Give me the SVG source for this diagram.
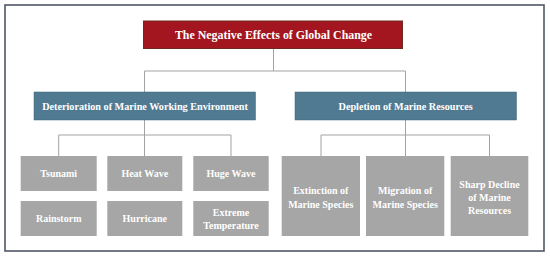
<svg xmlns="http://www.w3.org/2000/svg" width="550" height="257" viewBox="0 0 550 257">
<style>
text{font-family:"Liberation Serif","Times New Roman",serif;font-weight:bold;fill:#ffffff;text-anchor:middle;dominant-baseline:central}
.t{font-size:11.9px}
.b{fill:#4f7a92;stroke:#3f6478;stroke-width:0.5}
.bt{font-size:10.2px}
.g{fill:#a6a6a6}
.gt{font-size:10px}
.c{fill:none;stroke:#a3a3a3;stroke-width:1}
</style>
<rect x="5" y="5" width="539" height="246" fill="#ffffff" stroke="#4f5766" stroke-width="1.6"/>
<g id="connectors">
<path class="c" d="M273.5,48.5V71H144.5V92M273.5,71H405.5V92"/>
<path class="c" d="M144.5,120V135H58.7V156M144.5,135V156M144.5,135H231V156"/>
<path class="c" d="M405.5,120V135H321V156M405.5,135V156M405.5,135H489.5V156"/>
</g>
<g id="root">
<rect x="143.5" y="21" width="259" height="27.5" fill="#a3161f" stroke="#6e2a20" stroke-width="1"/>
<text class="t" x="273.5" y="35">The Negative Effects of Global Change</text>
</g>
<g id="env">
<rect class="b" x="34" y="92" width="221.5" height="28"/>
<text class="bt" x="145" y="106">Deterioration of Marine Working Environment</text>
</g>
<g id="res">
<rect class="b" x="295" y="92" width="221.5" height="28"/>
<text class="bt" x="405.7" y="106">Depletion of Marine Resources</text>
</g>
<g id="tsunami">
<rect class="g" x="20.7" y="156" width="76" height="35"/>
<text class="gt" x="58.7" y="173.5">Tsunami</text>
</g>
<g id="heatwave">
<rect class="g" x="107.3" y="156" width="75" height="35"/>
<text class="gt" x="144.8" y="173.5">Heat Wave</text>
</g>
<g id="hugewave">
<rect class="g" x="193.3" y="156" width="75.4" height="35"/>
<text class="gt" x="231" y="173.5">Huge Wave</text>
</g>
<g id="rainstorm">
<rect class="g" x="20.7" y="201" width="76" height="35"/>
<text class="gt" x="58.7" y="218.5">Rainstorm</text>
</g>
<g id="hurricane">
<rect class="g" x="107.3" y="201" width="75" height="35"/>
<text class="gt" x="144.8" y="218.5">Hurricane</text>
</g>
<g id="extreme">
<rect class="g" x="193.3" y="201" width="75.4" height="35"/>
<text class="gt" x="231" y="212">Extreme</text>
<text class="gt" x="231" y="225">Temperature</text>
</g>
<g id="extinction">
<rect class="g" x="281.7" y="156" width="78.3" height="80"/>
<text class="gt" x="320.8" y="190">Extinction of</text>
<text class="gt" x="320.8" y="204">Marine Species</text>
</g>
<g id="migration">
<rect class="g" x="366" y="156" width="78.3" height="80"/>
<text class="gt" x="405.2" y="190">Migration of</text>
<text class="gt" x="405.2" y="204">Marine Species</text>
</g>
<g id="decline">
<rect class="g" x="450.7" y="156" width="77.6" height="80"/>
<text class="gt" x="489.5" y="184">Sharp Decline</text>
<text class="gt" x="489.5" y="197">of Marine</text>
<text class="gt" x="489.5" y="210">Resources</text>
</g>
</svg>
